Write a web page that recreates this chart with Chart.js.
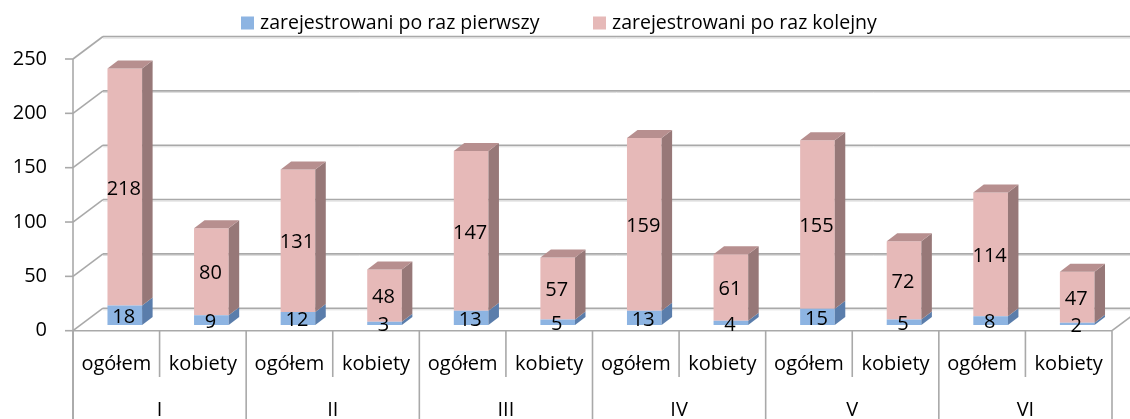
<!DOCTYPE html>
<html>
<head>
<meta charset="utf-8">
<script src="https://cdn.jsdelivr.net/npm/chart.js@4/dist/chart.umd.min.js"></script>
<style>
    html, body { margin: 0; padding: 0; background: #fff; }
    #chart { display: block; }
</style>
</head>
<body>
<canvas id="chart" width="1130" height="419"></canvas>
<script>
// Chart data
const categories = ['ogółem', 'kobiety', 'ogółem', 'kobiety', 'ogółem', 'kobiety',
                    'ogółem', 'kobiety', 'ogółem', 'kobiety', 'ogółem', 'kobiety'];
const groups = ['I', 'II', 'III', 'IV', 'V', 'VI'];
const firstTime = [18, 9, 12, 3, 13, 5, 13, 4, 15, 5, 8, 2];
const nextTime = [218, 80, 131, 48, 147, 57, 159, 61, 155, 72, 114, 47];
const seriesNames = ['zarejestrowani po raz pierwszy', 'zarejestrowani po raz kolejny'];
const yTicks = [0, 50, 100, 150, 200, 250];

const FONT = '"Open Sans", "Noto Sans", sans-serif';
const frontColors = ['#8db4e2', '#e6b9b8'];
const sideColors = ['#5a7dab', '#977878'];
const topColors = ['#7196c6', '#b78f8f'];

// 3D look: depth of the walls and of the bars
const WALL_DX = 30, WALL_DY = -22.5;
const BAR_SHIFT_X = 8.5, BAR_SHIFT_Y = -5.7;
const BAR_DX = 10.5, BAR_DY = -8;
const GRID = '#a9a9a9';

function line(ctx, x1, y1, x2, y2) {
    ctx.beginPath();
    ctx.moveTo(x1, y1);
    ctx.lineTo(x2, y2);
    ctx.stroke();
}

const walls3d = {
    id: 'walls3d',
    beforeDatasetsDraw(chart) {
        const ctx = chart.ctx;
        const area = chart.chartArea;
        const y = chart.scales.y;
        const x = chart.scales.x;
        ctx.save();
        ctx.lineWidth = 1.6;
        ctx.strokeStyle = GRID;

        // back wall lines + left wall diagonals + tick marks
        yTicks.forEach(v => {
            const py = y.getPixelForValue(v);
            ctx.strokeStyle = '#dcdcdc';
            ctx.lineWidth = 1;
            line(ctx, area.left + WALL_DX, py + WALL_DY + 1.6, chart.width, py + WALL_DY + 1.6);
            ctx.strokeStyle = GRID;
            ctx.lineWidth = 1.6;
            line(ctx, area.left, py, area.left + WALL_DX, py + WALL_DY);
            line(ctx, area.left + WALL_DX, py + WALL_DY, chart.width, py + WALL_DY);
            line(ctx, area.left - 8, py, area.left, py);
        });

        // floor front edge and right diagonal
        const py0 = y.getPixelForValue(0);
        line(ctx, area.left, py0, area.right, py0);
        line(ctx, area.right, py0, area.right + WALL_DX, py0 + WALL_DY);

        // y axis line
        line(ctx, area.left, y.getPixelForValue(250), area.left, chart.height);

        // category dividers
        for (let i = 0; i <= categories.length; i++) {
            let px;
            if (i === 0) px = area.left;
            else if (i === categories.length) px = area.right;
            else px = (x.getPixelForValue(i - 1) + x.getPixelForValue(i)) / 2;
            const bottom = (i % 2 === 0) ? chart.height : 377;
            line(ctx, px, py0, px, bottom);
        }

        // category labels
        ctx.fillStyle = '#000';
        ctx.font = '20px ' + FONT;
        ctx.textAlign = 'center';
        ctx.textBaseline = 'middle';
        categories.forEach((c, i) => {
            ctx.fillText(c, x.getPixelForValue(i), 364);
        });
        groups.forEach((g, i) => {
            const gx = (x.getPixelForValue(2 * i) + x.getPixelForValue(2 * i + 1)) / 2;
            ctx.fillText(g, gx, 410);
        });
        ctx.restore();

        // bars are drawn shifted into the middle of the depth
        ctx.save();
        ctx.translate(BAR_SHIFT_X, BAR_SHIFT_Y);
    },
    afterDatasetsDraw(chart) {
        const ctx = chart.ctx;
        const metas = chart.data.datasets.map((d, i) => chart.getDatasetMeta(i));

        // side and top faces
        metas.forEach((meta, di) => {
            meta.data.forEach((bar, i) => {
                const p = bar.getProps(['x', 'y', 'base', 'width']);
                const r = p.x + p.width / 2;
                const l = p.x - p.width / 2;
                ctx.fillStyle = sideColors[di];
                ctx.beginPath();
                ctx.moveTo(r, p.y);
                ctx.lineTo(r + BAR_DX, p.y + BAR_DY);
                ctx.lineTo(r + BAR_DX, p.base + BAR_DY);
                ctx.lineTo(r, p.base);
                ctx.closePath();
                ctx.fill();
                const isTop = di === metas.length - 1;
                if (isTop) {
                    ctx.fillStyle = topColors[di];
                    ctx.beginPath();
                    ctx.moveTo(l, p.y);
                    ctx.lineTo(r, p.y);
                    ctx.lineTo(r + BAR_DX, p.y + BAR_DY);
                    ctx.lineTo(l + BAR_DX, p.y + BAR_DY);
                    ctx.closePath();
                    ctx.fill();
                }
            });
        });

        // value labels
        ctx.fillStyle = '#000';
        ctx.font = '20px ' + FONT;
        ctx.textAlign = 'center';
        ctx.textBaseline = 'middle';
        metas.forEach((meta, di) => {
            const values = chart.data.datasets[di].data;
            meta.data.forEach((bar, i) => {
                const p = bar.getProps(['x', 'y', 'base']);
                ctx.fillText(String(values[i]), p.x - 1, (p.y + p.base) / 2 + 2);
            });
        });
        ctx.restore();

        // legend
        ctx.save();
        ctx.font = '19.5px ' + FONT;
        ctx.textBaseline = 'middle';
        ctx.textAlign = 'left';
        const legendX = [241, 593];
        chart.data.datasets.forEach((d, i) => {
            ctx.fillStyle = d.backgroundColor;
            ctx.fillRect(legendX[i], 16.5, 13, 13);
            ctx.fillStyle = '#000';
            ctx.fillText(d.label, legendX[i] + 19, 23);
        });
        ctx.restore();
    }
};

new Chart(document.getElementById('chart'), {
    type: 'bar',
    data: {
        labels: categories,
        datasets: [
            { label: seriesNames[0], data: firstTime, backgroundColor: frontColors[0] },
            { label: seriesNames[1], data: nextTime, backgroundColor: frontColors[1] }
        ]
    },
    options: {
        responsive: false,
        devicePixelRatio: 1,
        animation: false,
        layout: { padding: { top: 59, right: 18, left: 0, bottom: 0 } },
        datasets: {
            bar: { categoryPercentage: 1, barPercentage: 0.4, borderWidth: 0 }
        },
        plugins: {
            legend: { display: false },
            tooltip: { enabled: false }
        },
        scales: {
            x: {
                stacked: true,
                grid: { display: false },
                border: { display: false },
                ticks: { display: false },
                afterFit(scale) { scale.height = 88.3; }
            },
            y: {
                stacked: true,
                min: 0,
                max: 250,
                grid: { display: false },
                border: { display: false },
                ticks: {
                    stepSize: 50,
                    padding: 18,
                    color: '#000',
                    font: { family: FONT, size: 20 }
                },
                afterFit(scale) { scale.width = 73; }
            }
        }
    },
    plugins: [walls3d]
});
</script>
</body>
</html>
